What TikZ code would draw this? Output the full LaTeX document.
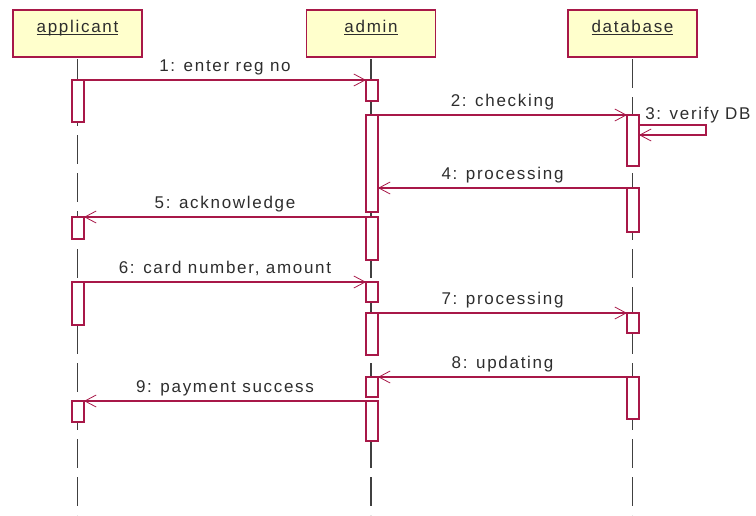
\documentclass[tikz,border=0pt]{standalone}
\usepackage{fontspec}
\setmainfont{Liberation Sans}[LetterSpace=10]
\usetikzlibrary{arrows.meta,calc}

\definecolor{rose}{RGB}{168,24,72}
\definecolor{headfill}{RGB}{255,255,204}
\definecolor{ink}{RGB}{45,45,45}
\definecolor{lifegray}{RGB}{64,64,64}

% underline drawn at a fixed depth below the baseline
\newcommand\nameline[1]{\setbox0\hbox{#1}\leavevmode\rlap{\rule[-1.8pt]{\wd0}{0.8pt}}\box0}
% activation bar: name, x, top y, height (all in px units)
\newcommand\actbox[4]{\node[act, minimum height={#4*0.75pt}] (#1) at (#2,#3) {};}

\begin{document}
\begin{tikzpicture}[x=0.75pt,y=-0.75pt,
  every node/.style={font=\fontsize{12.75}{15}\selectfont, text=ink},
  head/.style={draw=rose, fill=headfill, line width=1pt, minimum width=96.75pt,
    minimum height=35.25pt, anchor=north, text height=9.4pt, text depth=10.85pt,
    inner sep=0pt, outer sep=0pt},
  life/.style={draw=lifegray, line width=1.1pt, dash pattern=on 21.75pt off 6.75pt,
    dash phase=27pt},
  act/.style={draw=rose, fill=white, line width=1pt, minimum width=9pt,
    inner sep=0pt, outer sep=0pt, anchor=north},
  msg/.style={draw=rose, line width=0.9pt,
    -{Straight Barb[length=8.5pt,width=9pt,line width=0.6pt]}},
  lbl/.style={midway, anchor=base, yshift=6.4pt, inner sep=0pt},
]
\useasboundingbox (0,0) rectangle (756,515);
\coordinate (bottom) at (0,515);

% objects
\node[head] (app) at (77.5,10) {\nameline{applicant}};
\node[head] (adm) at (371,10) {\nameline{admin}};
\node[head] (db)  at (632.5,10) {\nameline{database}};

% lifelines
\draw[life] (app.south) -- (app.south |- bottom);
\draw[life] (adm.south) -- (adm.south |- bottom);
\draw[life] (db.south) -- (db.south |- bottom);

% activation bars
\actbox{a1}{78}{80}{42}
\actbox{a2}{78}{217}{22}
\actbox{a3}{78}{282}{43}
\actbox{a4}{78}{401}{21}
\actbox{b1}{372}{80}{21}
\actbox{b2}{372}{115}{97}
\actbox{b3}{372}{217}{43}
\actbox{b4}{372}{282}{20}
\actbox{b5}{372}{313}{42}
\actbox{b6}{372}{377}{20}
\actbox{b7}{372}{401}{40}
\actbox{c1}{633}{115}{51}
\actbox{c2}{633}{188}{44}
\actbox{c3}{633}{313}{20}
\actbox{c4}{633}{377}{42}

% messages
\draw[msg] (a1.north east) -- (b1.north west) node[lbl] {1: enter reg no};
\draw[msg] (b2.north east) -- (c1.north west) node[lbl] {2: checking};
\draw[msg] ($(c1.north east)+(0,10)$) -- ++(67,0) -- ++(0,10) -- ($(c1.north east)+(0,20)$);
\node[anchor=base west, inner sep=0pt] (m3) at ($(c1.north east)+(6,4)$) {3: verify DB};
\draw[msg] (c2.north west) -- (c2.north west -| b2.east) node[lbl] {4: processing};
\draw[msg] (b3.north west) -- (a2.north east) node[lbl] {5: acknowledge};
\draw[msg] (a3.north east) -- (b4.north west) node[lbl] {6: card number, amount};
\draw[msg] (b5.north east) -- (c3.north west) node[lbl] {7: processing};
\draw[msg] (c4.north west) -- (b6.north east) node[lbl] {8: updating};
\draw[msg] (b7.north west) -- (a4.north east) node[lbl] {9: payment success};
\end{tikzpicture}
\end{document}
